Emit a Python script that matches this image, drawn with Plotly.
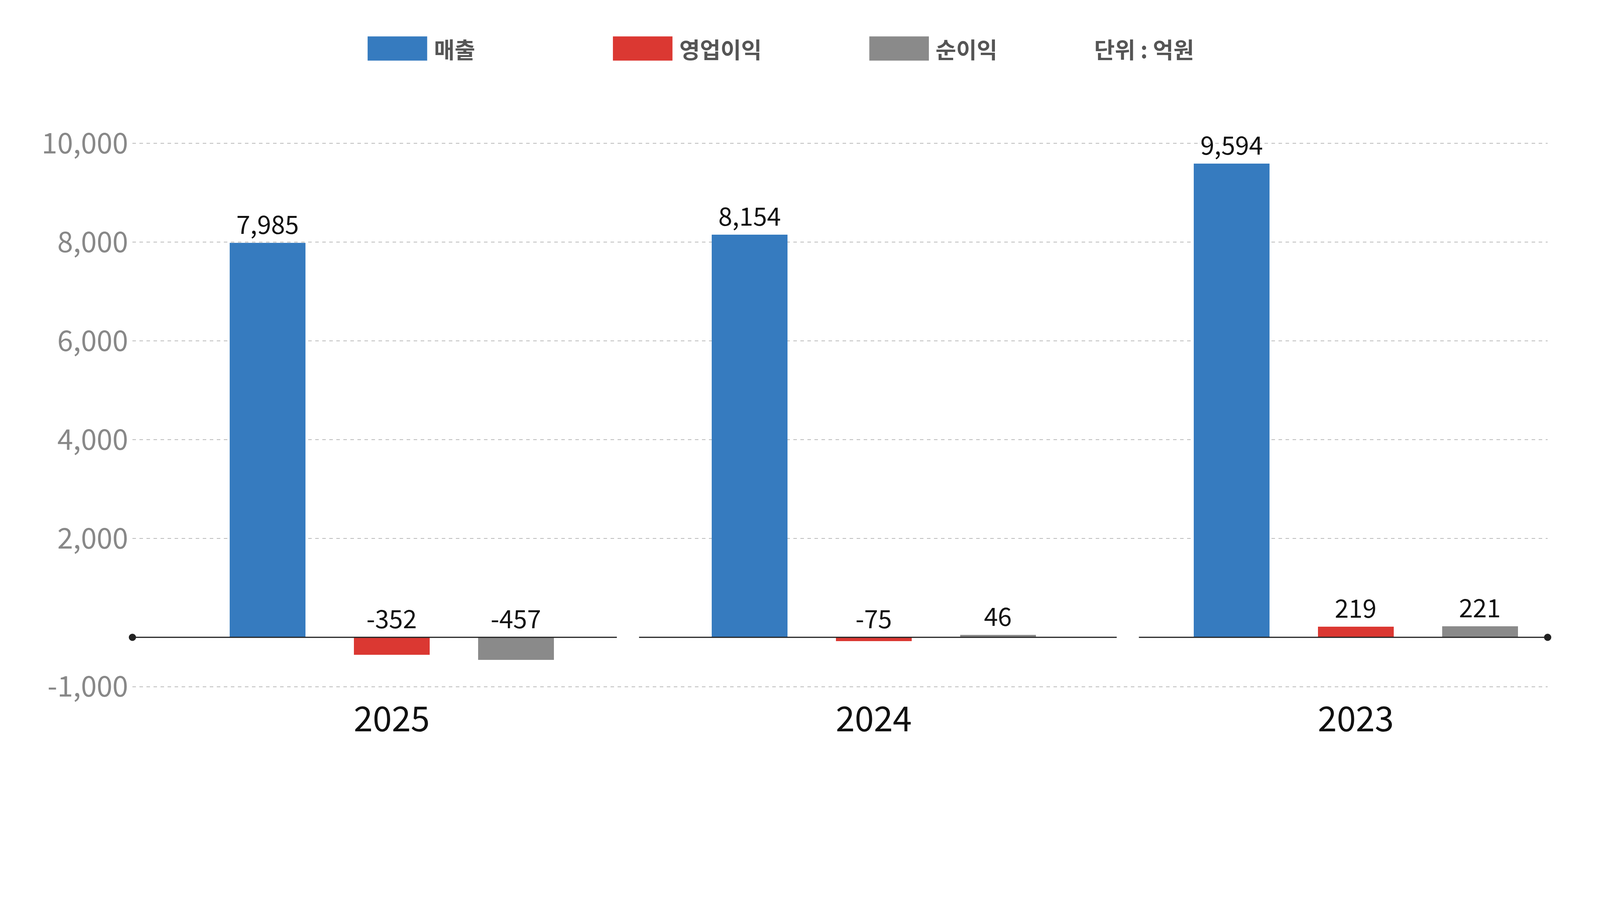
import plotly.graph_objects as go

years = ["2025", "2024", "2023"]
series_names = ["매출", "영업이익", "순이익"]
sales = [7985, 8154, 9594]
op_profit = [-352, -75, 219]
net_profit = [-457, 46, 221]
colors = ["#367BBF", "#DB3832", "#8A8A8A"]
ytick_vals = [-1000, 2000, 4000, 6000, 8000, 10000]
ytick_text = ["-1,000", "2,000", "4,000", "6,000", "8,000", "10,000"]

F = 1 / 1.185
W, H = round(4778 * F), round(2346 * F)
S = W / 1560.0
L, R, T, B = 128, 1530, 114.5, 687  # display px of plot area
def px(xd): return (xd - L) / (R - L)
def py(yd): return (B - yd) / (B - T)
def fs(v): return v * F

offsets = [-0.2576, 0.0, 0.2576]
bw = 0.157
fig = go.Figure()
allvals = [sales, op_profit, net_profit]
for k, (name, vals) in enumerate(zip(series_names, allvals)):
    xs = [i + offsets[k] for i in range(len(years))]
    fig.add_trace(go.Bar(x=xs, y=vals, width=bw, marker_color=colors[k],
                         marker_line_width=0, name=name, showlegend=False))
    for x, v in zip(xs, vals):
        fig.add_annotation(x=x, y=max(v, 0), text=f"{v:,}", showarrow=False,
                           yanchor="bottom", yshift=3, font=dict(size=fs(76), color="#111"))

segs = [(-0.538, 0.467), (0.513, 1.504), (1.55, 2.398)]
for a, b in segs:
    fig.add_shape(type="line", x0=a, x1=b, y0=0, y1=0, xref="x", yref="y",
                  line=dict(color="#222", width=3))
for xx in (-0.538, 2.398):
    fig.add_trace(go.Scatter(x=[xx], y=[0], mode="markers", cliponaxis=False,
                             marker=dict(color="#222", size=fs(22)), showlegend=False, hoverinfo="skip"))

leg = [(361, 420, "매출", colors[0]), (604, 663, "영업이익", colors[1]), (858, 917, "순이익", colors[2])]
for x0, x1, t, c in leg:
    fig.add_shape(type="rect", xref="paper", yref="paper", x0=px(x0), x1=px(x1),
                  y0=py(57), y1=py(33), fillcolor=c, line_width=0)
    fig.add_annotation(xref="paper", yref="paper", x=px(x1 + 6), y=py(45), text=f"<b>{t}</b>",
                       showarrow=False, xanchor="left", yanchor="middle",
                       font=dict(size=fs(68), color="#555"))
fig.add_annotation(xref="paper", yref="paper", x=px(1080), y=py(45), text="<b>단위 : 억원</b>",
                   showarrow=False, xanchor="left", yanchor="middle",
                   font=dict(size=fs(68), color="#555"))

fig.update_layout(
    width=W, height=H, plot_bgcolor="white", paper_bgcolor="white",
    margin=dict(l=L * S, r=W - R * S, t=T * S, b=H - B * S),
    font=dict(family="Noto Sans CJK KR"), bargap=0,
    xaxis=dict(range=[-0.538, 2.398], tickvals=[0, 1, 2], ticktext=years,
               tickfont=dict(size=fs(104), color="#111"), showgrid=False, zeroline=False,
               showline=False, ticks=""),
    yaxis=dict(range=[-1200, 10500], tickvals=ytick_vals, ticktext=ytick_text,
               tickfont=dict(size=fs(86), color="#888"), showgrid=True, griddash="dash",
               gridcolor="#bbb", gridwidth=2, zeroline=False, showline=False, ticklabelstandoff=10),
)
fig.write_html("out.html")
